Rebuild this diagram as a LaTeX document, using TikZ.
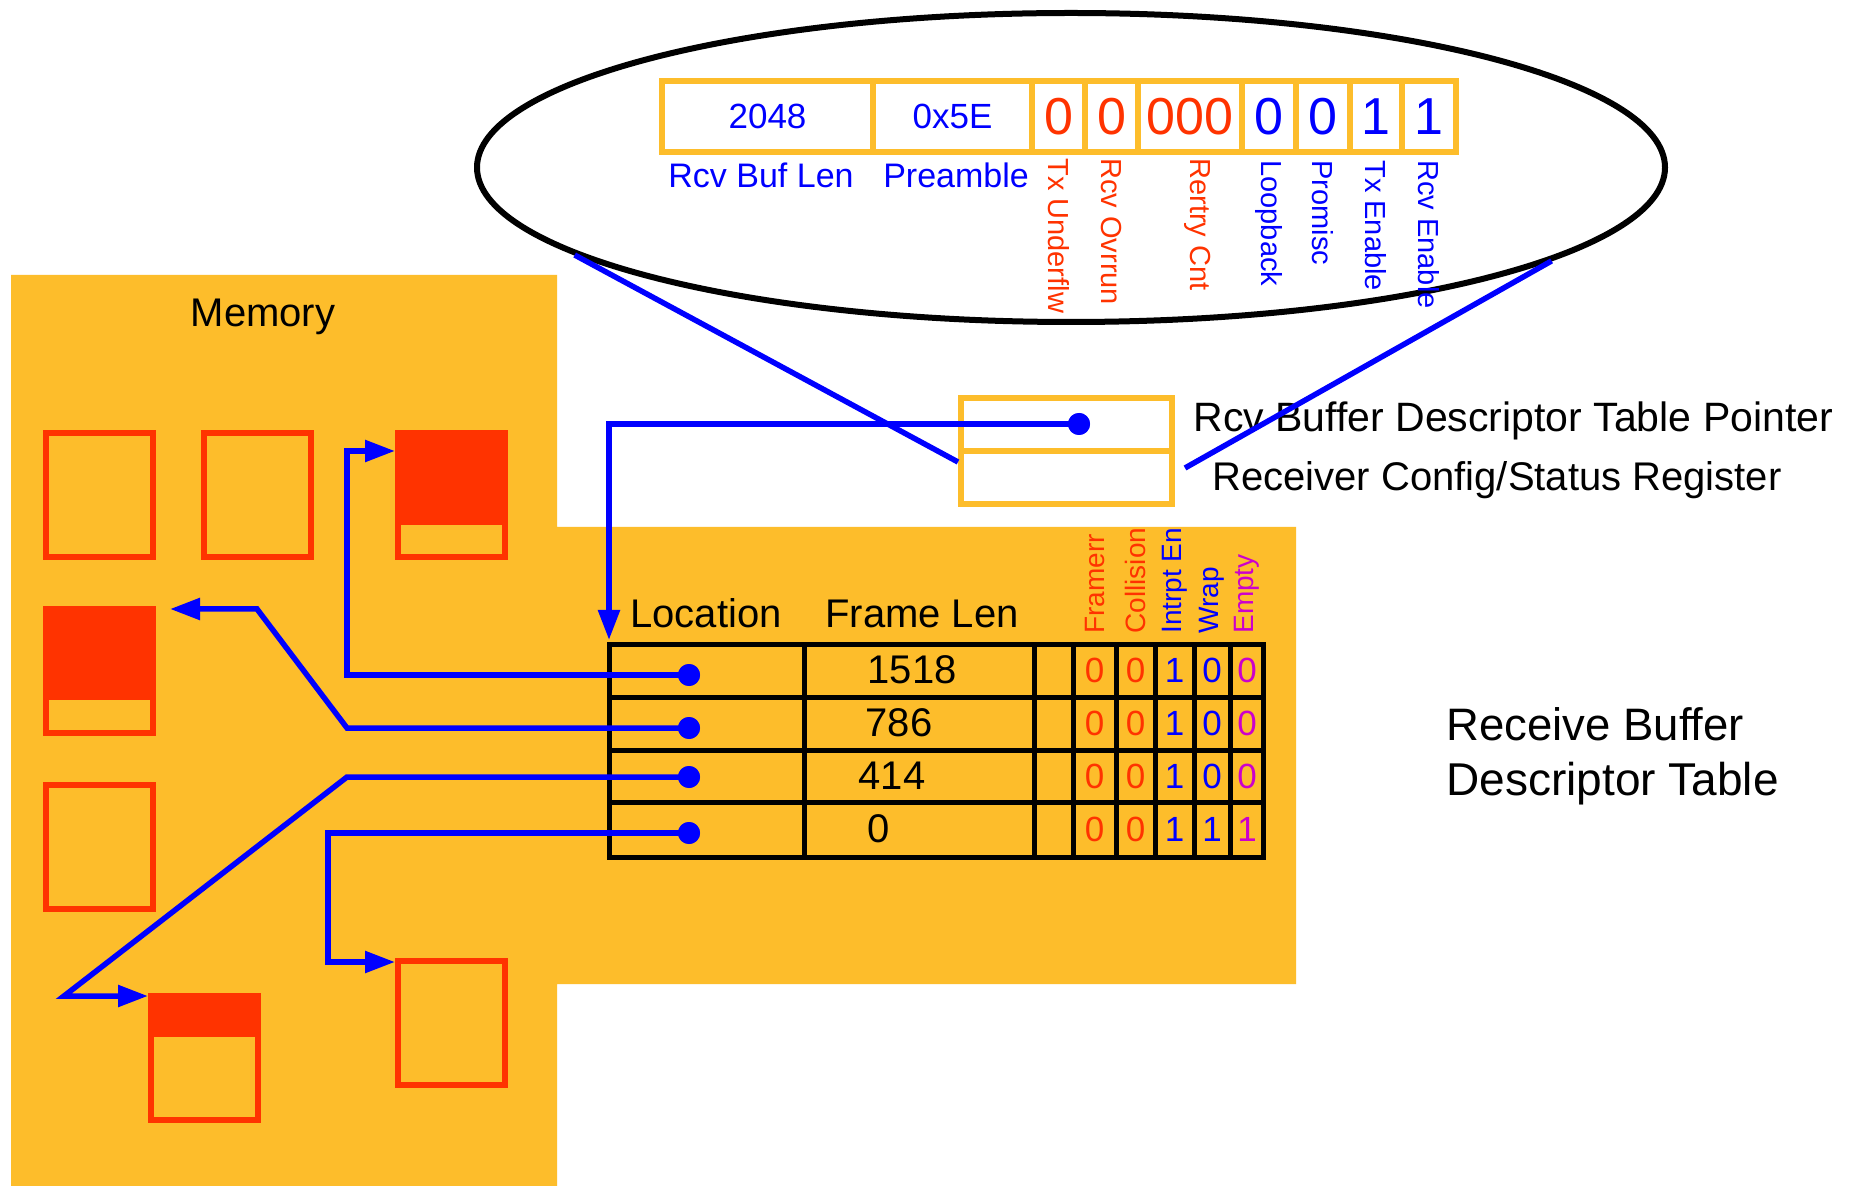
\documentclass[tikz,border=0pt]{standalone}
\usepackage{fontspec}
\setmainfont{Liberation Sans}
\usetikzlibrary{arrows.meta,shapes.geometric}
\definecolor{yel}{HTML}{FDBD2B}
\definecolor{rd}{HTML}{FF3300}
\definecolor{bl}{HTML}{0000FF}
\definecolor{mg}{HTML}{CC00CC}
\newcommand{\fsz}[1]{\fontsize{#1}{#1}\selectfont}
\begin{document}
\begin{tikzpicture}[x=0.5pt,y=-0.5pt,
  every node/.style={inner sep=0pt},
  buf/.style={draw=rd, line width=3pt, minimum width=53.5pt, minimum height=62pt},
  wire/.style={draw=bl, line width=2.75pt},
  arr/.style={-{Triangle[length=15pt,width=10.5pt]}},
  dot/.style={circle, fill=bl, minimum size=11pt},
  cell/.style={draw=yel, line width=3pt, minimum height=35.5pt, fill=white},
  regcell/.style={draw=yel, line width=3pt, minimum width=105.5pt, minimum height=26.5pt, fill=white},
  vlab/.style={rotate=-90, anchor=west, font=\fsz{14.5}},
  hlab/.style={rotate=90, anchor=west, font=\fsz{14}},
  tline/.style={line width=2.5pt}
]
\fill[white] (0,0) rectangle (1856,1186);
\useasboundingbox (0,0) rectangle (1856,1186);

% memory area
\fill[yel] (11,275) -- (557,275) -- (557,527) -- (1296,527) -- (1296,984)
  -- (557,984) -- (557,1186) -- (11,1186) -- cycle;
\node[anchor=base, font=\fsz{20}] (mem) at (263,327) {Memory};

% buffers
\node[buf] (b1) at (99,495) {};
\node[buf] (b2) at (257.5,495) {};
\node[buf] (b3) at (451.5,495) {};
\node[buf] (b4) at (99,671) {};
\node[buf] (b5) at (99,847) {};
\node[buf] (b6) at (204.5,1058) {};
\node[buf] (b7) at (451.5,1023) {};
\fill[rd] (395,430) rectangle (508,525);
\fill[rd] (43,606) rectangle (155,700);
\fill[rd] (148,993) rectangle (261,1037);

% descriptor table
\node[draw, tline, minimum width=327pt, minimum height=106.5pt, outer sep=0pt,
  anchor=north west] (tbl) at (609,644) {};
\foreach \xx in {804,1034,1073,1116,1155,1194,1230}
  \draw[tline] (\xx,644) -- (\xx,857);
\foreach \yy in {697,750,802}
  \draw[tline] (609,\yy) -- (1263,\yy);
\node[anchor=base, font=\fsz{20}] (hloc) at (706,627) {Location};
\node[anchor=base, font=\fsz{20}] (hfl) at (922,627) {Frame Len};
\node[hlab, text=rd] (hfe) at (1094.5,634) {Framerr};
\node[hlab, text=rd] (hco) at (1135.5,634) {Collision};
\node[hlab, text=bl] (hie) at (1174.5,634) {Intrpt En};
\node[hlab, text=bl] (hwr) at (1212,634) {Wrap};
\node[hlab, text=mg] (hem) at (1247,634) {Empty};
\node[font=\fsz{20}] (v1) at (912,670) {1518};
\node[font=\fsz{20}] (v2) at (899,723) {786};
\node[font=\fsz{20}] (v3) at (892,776) {414};
\node[font=\fsz{20}] (v4) at (879,829) {0};
\foreach \r/\yy/\a/\b/\c/\d/\e in {1/670.5/0/0/1/0/0, 2/723.5/0/0/1/0/0,
    3/776/0/0/1/0/0, 4/829.5/0/0/1/1/1} {
  \node[font=\fsz{17.5}, text=rd] (bit\r a) at (1094.5,\yy) {\a};
  \node[font=\fsz{17.5}, text=rd] (bit\r b) at (1135.5,\yy) {\b};
  \node[font=\fsz{17.5}, text=bl] (bit\r c) at (1174.5,\yy) {\c};
  \node[font=\fsz{17.5}, text=bl] (bit\r d) at (1212,\yy) {\d};
  \node[font=\fsz{17.5}, text=mg] (bit\r e) at (1247,\yy) {\e};
}
\node[anchor=base west, font=\fsz{22.75}] (cap1) at (1446,740) {Receive Buffer};
\node[anchor=base west, font=\fsz{23}] (cap2) at (1446,795) {Descriptor Table};

% ellipse with config register
\node[ellipse, draw=black, line width=3pt, minimum width=594pt, minimum height=154.5pt]
  (ell) at (1071,167.5) {};
\node[cell, minimum width=105.5pt, text=bl, font=\fsz{17.5}] (s1) at (767.5,116.5) {2048};
\node[cell, minimum width=79.5pt, text=bl, font=\fsz{17.5}] (s2) at (952.5,116.5) {0x5E};
\node[cell, minimum width=26.5pt, text=rd, font=\fsz{26}] (s3) at (1058.5,116.5) {0};
\node[cell, minimum width=26.5pt, text=rd, font=\fsz{26}] (s4) at (1111.5,116.5) {0};
\node[cell, minimum width=52pt, text=rd, font=\fsz{26}] (s5) at (1190,116.5) {000};
\node[cell, minimum width=27pt, text=bl, font=\fsz{26}] (s6) at (1269,116.5) {0};
\node[cell, minimum width=27pt, text=bl, font=\fsz{26}] (s7) at (1323,116.5) {0};
\node[cell, minimum width=26pt, text=bl, font=\fsz{26}] (s8) at (1376,116.5) {1};
\node[cell, minimum width=27pt, text=bl, font=\fsz{26}] (s9) at (1429,116.5) {1};
\node[anchor=base, font=\fsz{17}, text=bl] (lbuf) at (761,188) {Rcv Buf Len};
\node[anchor=base, font=\fsz{17}, text=bl] (lpre) at (956,188) {Preamble};
\node[vlab, text=rd] (l3) at (1058.5,158) {Tx Underflw};
\node[vlab, text=rd] (l4) at (1111.5,158) {Rcv Ovrrun};
\node[vlab, text=rd] (l5) at (1198,158) {Rertry Cnt};
\node[vlab, text=bl] (l6) at (1269,160) {Loopback};
\node[vlab, text=bl] (l7) at (1323,160) {Promisc};
\node[vlab, text=bl] (l8) at (1376,160) {Tx Enable};
\node[vlab, text=bl] (l9) at (1429,160) {Rcv Enable};

% registers
\node[regcell] (regtop) at (1066.5,424.5) {};
\node[regcell] (regbot) at (1066.5,477.5) {};
\node[anchor=base west, font=\fsz{20.5}] (lptr) at (1193,432) {Rcv Buffer Descriptor Table Pointer};
\node[anchor=base west, font=\fsz{20}] (lcfg) at (1212,491) {Receiver Config/Status Register};

% zoom lines
\draw[wire] (ell.190) -- ([yshift=-7pt]regbot.north west);
\draw[wire] (ell.-11.5) -- ([xshift=5pt,yshift=-10pt]regbot.north east);

% pointer
\node[dot] (dp) at (1079,424) {};
\coordinate (cp) at (609,424);
\draw[wire,arr] (dp.center) -- (cp) -- ([yshift=2pt]tbl.north west);
\node[dot] at (dp) {};

% descriptor wires
\node[dot] (d1) at (689,675) {};
\node[dot] (d2) at (689,728) {};
\node[dot] (d3) at (689,777) {};
\node[dot] (d4) at (689,833) {};
\coordinate (c1a) at (347,675);
\coordinate (c1b) at (347,451);
\draw[wire,arr] (d1.center) -- (c1a) -- (c1b) -- (c1b -| b3.west);
\coordinate (c2a) at (347,728);
\coordinate (c2b) at (257,609);
\coordinate (c2c) at (170,609);
\draw[wire,arr] (d2.center) -- (c2a) -- (c2b) -- (c2c);
\coordinate (c3a) at (347,777);
\coordinate (c3b) at (64,996);
\draw[wire,arr] (d3.center) -- (c3a) -- (c3b) -- (c3b -| b6.west);
\coordinate (c4a) at (328,833);
\coordinate (c4b) at (328,962);
\draw[wire,arr] (d4.center) -- (c4a) -- (c4b) -- (c4b -| b7.west);
\foreach \n in {d1,d2,d3,d4} \node[dot] at (\n) {};
\end{tikzpicture}
\end{document}
